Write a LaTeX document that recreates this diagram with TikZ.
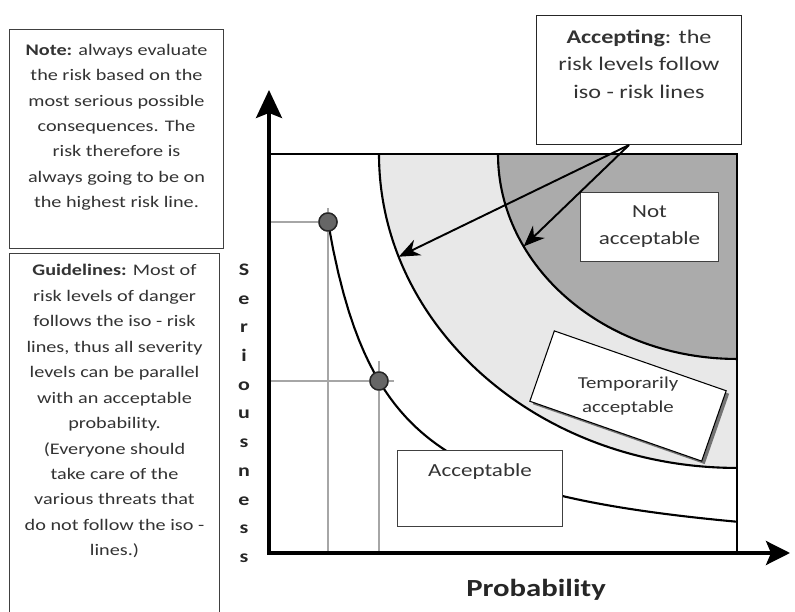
\documentclass[tikz,border=0pt]{standalone}
\usepackage{fontspec}
\setmainfont{Carlito}[FakeStretch=1.25]
\usetikzlibrary{arrows.meta,positioning,shadows}

\newcommand\notesize{\fontsize{9.2}{14.4}\selectfont}
\newcommand\guidesize{\fontsize{9.2}{14.5}\selectfont}
\newcommand\zonesize{\fontsize{10.5}{15.4}\selectfont}

\begin{document}
\begin{tikzpicture}[x=0.02cm,y=0.02cm,
  box/.style={draw=black!75,line width=0.6pt,fill=white,inner sep=0pt},
  txt/.style={align=center,text=black!80,inner sep=0pt},
  guide/.style={draw=black!35,line width=1.1pt},
  iso/.style={line width=1.2pt},
  dot/.style={circle,draw=black!85,fill=black!60,line width=0.8pt,minimum size=0.36cm,inner sep=0pt},
  pointer/.style={-{Stealth[length=0.42cm,width=0.34cm]},line width=1.1pt},
  axlbl/.style={font=\bfseries\fontsize{10}{12}\selectfont,text=black!85,anchor=base,inner sep=0pt}]
  \clip (0,0) rectangle (795,612);
  \coordinate (O) at (269,59);
  \coordinate (C) at (737,458); % top right corner of the chart
  \coordinate (ytip) at (269,522);
  \coordinate (xtip) at (790,59);

  % risk zones
  \fill[black!9] (C) -- (379,458) arc[start angle=180,end angle=270,x radius=7.16cm,y radius=6.28cm] -- cycle;
  \fill[black!33] (C) -- (498,458) arc[start angle=180,end angle=270,x radius=4.78cm,y radius=4.1cm] -- cycle;
  \draw[iso] (379,458) arc[start angle=180,end angle=270,x radius=7.16cm,y radius=6.28cm];
  \draw[iso] (498,458) arc[start angle=180,end angle=270,x radius=4.78cm,y radius=4.1cm];
  \draw[iso] (O |- C) -- (C) -- (C |- O);

  % iso-risk line through the two points
  \draw[iso] plot[domain=59:468,samples=80] ({269+\x},{47+100*(202.4/\x)});
  \node[dot] (p1) at (328,390) {};
  \node[dot] (p2) at (379,231) {};
  \draw[guide] (O |- p1) -- ([xshift=0.18cm]p1.center);
  \draw[guide] (O -| p1) -- ([yshift=0.28cm]p1.center);
  \draw[guide] (O |- p2) -- ([xshift=0.3cm]p2.center);
  \draw[guide] (O -| p2) -- ([yshift=0.4cm]p2.center);
  \node[dot] at (p1) {};
  \node[dot] at (p2) {};

  % axes
  \draw[line width=1.9pt,{Stealth[length=0.56cm,width=0.52cm,inset=0.1cm]}-{Stealth[length=0.48cm,width=0.48cm,inset=0.1cm]}] (ytip) -- (O) -- (xtip);
  \node[font=\bfseries\fontsize{14}{16}\selectfont,text=black!85,anchor=base] (xlbl) at (536,15) {Probability};
  \foreach \ch [count=\i] in {S,e,r,i,o,u,s,n,e,s,s}
    \node[axlbl] (s\i) at (244,{336.5-28.7*(\i-1)}) {\ch};

  % zone labels
  \node[box,minimum width=2.76cm,minimum height=1.38cm,anchor=north west] (notacc) at (580,420) {};
  \node[txt,font=\zonesize] at (notacc.center) {Not\\acceptable};
  \node[box,draw=black,rotate=-19.2,minimum width=3.64cm,minimum height=1.49cm,
    drop shadow={shadow xshift=0.06cm,shadow yshift=-0.06cm,fill=black!55,opacity=1}] (temp) at (628,216) {};
  \node[txt,font=\fontsize{9.5}{13.7}\selectfont] at (temp.center) {Temporarily\\acceptable};
  \node[box,minimum width=3.3cm,minimum height=1.52cm,anchor=north west] (acc) at (397,162) {};
  \node[txt,font=\zonesize,below=0.26cm of acc.north] {Acceptable};

  % accepting note with its two pointers
  \node[box,draw=black!85,minimum width=4.1cm,minimum height=2.58cm,anchor=north west] (accept) at (536,597) {};
  \node[txt,font=\fontsize{11}{15.4}\selectfont,below=0.3cm of accept.north] {\textbf{Accepting}: the\\risk levels follow\\iso - risk lines};
  \coordinate (fork) at ([xshift=-0.2cm]accept.south);
  \coordinate (t1) at ([shift={(199.1:7.16cm and 6.28cm)}]C);
  \coordinate (t2) at ([shift={(206.8:4.78cm and 4.1cm)}]C);
  \draw[pointer] (fork) -- (t1);
  \draw[pointer] (fork) -- (t2);

  % side notes
  \node[box,minimum width=4.28cm,minimum height=4.38cm,anchor=north west] (note) at (9,583) {};
  \node[txt,font=\notesize,below=0.3cm of note.north] {\textbf{Note:} always evaluate\\the risk based on the\\most serious possible\\consequences. The\\risk therefore is\\always going to be on\\the highest risk line.};
  \node[box,minimum width=4.2cm,minimum height=7.6cm,anchor=north west] (guide) at (9,359) {};
  \node[txt,font=\guidesize,below=0.22cm of guide.north] {\textbf{Guidelines:} Most of\\risk levels of danger\\follows the iso - risk\\lines, thus all severity\\levels can be parallel\\with an acceptable\\probability.\\(Everyone should\\take care of the\\various threats that\\do not follow the iso -\\lines.)};
\end{tikzpicture}
\end{document}
